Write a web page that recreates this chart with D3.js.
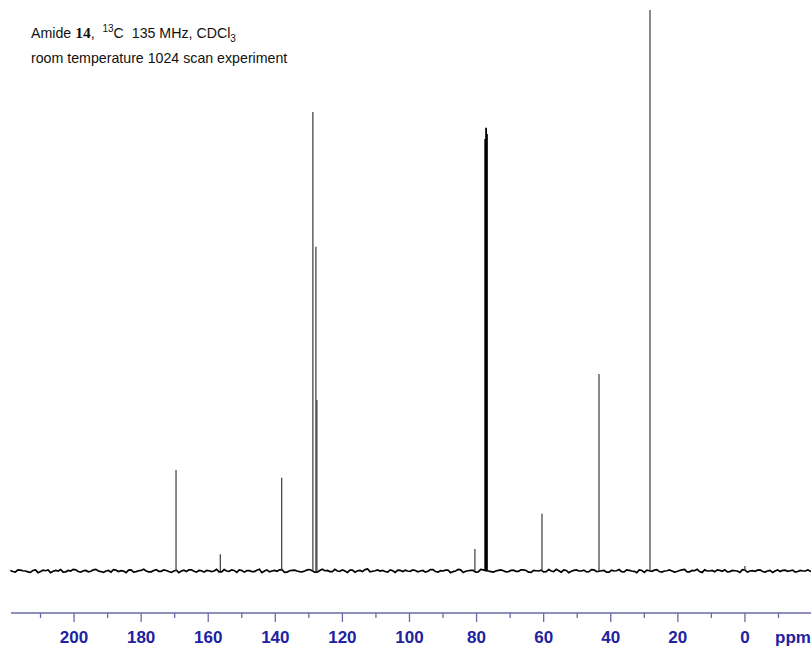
<!DOCTYPE html>
<html>
<head>
<meta charset="utf-8">
<script src="https://cdn.jsdelivr.net/npm/d3@7/dist/d3.min.js"></script>
<style>
  html, body { margin: 0; padding: 0; background: #fff; }
  svg { display: block; }
  text { white-space: pre; }
</style>
</head>
<body>
<svg id="chart" width="811" height="648"></svg>
<script>
// ---- data ----
const peakPpm    = [169.6, 156.4, 138.1, 128.8, 127.9, 127.6, 80.5, 77.42, 77.16, 76.91, 60.5, 43.5, 28.3, 0.0];
const peakHeight = [18.0,   3.0,  16.6,  81.8,  57.8,  30.5,  3.9,  77.0,  79.0,  77.9, 10.2, 35.1, 100.0, 0.9];
const tripletPpm = [77.42, 77.16, 76.91];

const tickValues = [210, 200, 190, 180, 170, 160, 150, 140, 130, 120, 110, 100, 90, 80, 70, 60, 50, 40, 30, 20, 10, 0, -10];
const tickLabels = ["200", "180", "160", "140", "120", "100", "80", "60", "40", "20", "0"];

const titleLine1 = ["Amide ", "14", ",  ", "13", "C  135 MHz, CDCl", "3"];
const titleLine2 = "room temperature 1024 scan experiment";
const unitLabel = "ppm";

// baseline noise, estimated; one value per 1.5 ppm from 219 ppm downwards,
// and a second set at the half-steps in between
const baseStartPpm = 219;
const baseStepPpm = 1.5;
const baselineNoise = [
  0.1,-0.2,0.15,0.0,-0.25,0.2,-0.1,0.05,-0.3,0.1,0.25,-0.15,0.0,0.2,-0.2,0.1,-0.05,0.3,-0.1,0.0,
  -0.2,0.15,0.05,-0.3,0.2,-0.1,0.1,0.0,-0.15,0.25,-0.05,0.1,-0.25,0.15,0.0,-0.1,0.2,-0.2,0.05,0.1,
  -0.1,0.3,-0.15,0.0,0.2,-0.25,0.1,0.05,-0.1,0.15,-0.3,0.2,0.0,-0.05,0.25,-0.2,0.1,0.0,-0.15,0.2,
  0.05,-0.2,0.3,0.1,-0.1,0.0,0.2,-0.25,0.15,0.05,-0.1,0.35,-0.05,0.2,0.1,-0.2,0.05,0.15,-0.1,0.0,
  0.2,-0.15,0.1,-0.05,0.25,-0.2,0.0,0.15,-0.1,0.3,-0.25,0.05,0.1,-0.15,0.2,0.0,-0.2,0.1,0.05,-0.1,
  0.15,-0.05,0.2,-0.2,0.1,0.0,-0.15,0.25,-0.1,0.05,0.2,-0.3,0.1,0.0,0.15,-0.1,0.2,-0.05,0.1,-0.2,
  0.0,0.25,-0.15,0.1,-0.05,0.2,-0.25,0.05,0.15,-0.1,0.0,0.2,-0.2,0.1,0.3,-0.15,0.05,-0.1,0.2,0.0,
  -0.15,0.1,0.2,-0.1,0.05,-0.25,0.15,0.0,-0.05,0.2,-0.2,0.1,0.0,-0.1,0.15,0.05,-0.2,0.1,0.0,-0.05
];
const baselineNoiseMid = [
  -0.1,0.2,0.05,-0.15,0.1,-0.3,0.15,0.2,-0.05,0.0,-0.2,0.1,0.3,-0.1,0.05,-0.15,0.2,0.0,-0.25,0.1,
  0.25,-0.1,0.0,0.15,-0.2,0.05,0.3,-0.15,0.1,-0.05,0.2,-0.1,0.0,-0.3,0.15,0.2,-0.05,0.1,-0.2,0.05,
  0.0,-0.15,0.25,-0.05,0.1,0.2,-0.2,0.05,-0.1,0.3,0.0,-0.15,0.1,0.2,-0.25,0.05,0.15,-0.1,0.0,0.25,
  -0.2,0.1,0.05,-0.1,0.3,-0.05,0.0,0.15,-0.2,0.1,0.25,-0.15,0.05,0.0,-0.1,0.2,-0.25,0.1,0.15,-0.05,
  0.1,0.0,-0.2,0.25,-0.1,0.05,0.15,-0.3,0.0,0.2,-0.05,0.1,-0.2,0.3,0.05,-0.1,0.0,0.2,-0.15,0.1,
  -0.05,0.2,0.1,-0.25,0.05,0.15,-0.1,0.0,0.3,-0.2,0.1,-0.05,0.2,0.0,-0.15,0.25,-0.1,0.05,-0.2,0.15,
  0.05,-0.1,0.2,0.0,-0.3,0.1,0.15,-0.05,0.25,-0.2,0.05,0.0,-0.1,0.2,-0.15,0.1,0.3,-0.25,0.0,0.1,
  0.2,-0.05,-0.15,0.1,0.0,0.25,-0.2,0.05,0.15,-0.1,0.0,-0.25,0.2,0.1,-0.05,0.15,-0.1,0.0,0.2,-0.15
];

// ---- drawing ----
const svg = d3.select("#chart");
const W = 811, H = 648;

const x = d3.scaleLinear().domain([218.8, -19.7]).range([11, 811]);
const y = d3.scaleLinear().domain([0, 100]).range([571, 10]);

// baseline
const basePts = [];
baselineNoise.forEach((v, i) => {
  basePts.push([baseStartPpm - i * baseStepPpm, v]);
  basePts.push([baseStartPpm - (i + 0.5) * baseStepPpm, baselineNoiseMid[i]]);
});
svg.append("path")
  .datum(basePts)
  .attr("fill", "none")
  .attr("stroke", "#000")
  .attr("stroke-width", 1.7)
  .attr("stroke-linejoin", "miter")
  .attr("d", d3.line().x(d => x(d[0])).y(d => y(d[1])));

// peaks
const peaks = peakPpm.map((p, i) => ({ ppm: p, h: peakHeight[i] }));
svg.append("g").selectAll("line")
  .data(peaks)
  .join("line")
  .attr("x1", d => x(d.ppm))
  .attr("x2", d => x(d.ppm))
  .attr("y1", y(0))
  .attr("y2", d => y(d.h))
  .attr("stroke", d => tripletPpm.includes(d.ppm) ? "#000" : "#3a3a3a")
  .attr("stroke-width", d => tripletPpm.includes(d.ppm) ? 1.8 : 1.2);

// axis
const axisY = 613;
const axisColor = "#6a6aa8";
const axisG = svg.append("g").attr("transform", `translate(0,${axisY})`);
axisG.append("line")
  .attr("x1", 11).attr("x2", W)
  .attr("y1", 0).attr("y2", 0)
  .attr("stroke", axisColor).attr("stroke-width", 1.6);

axisG.selectAll("line.tick")
  .data(tickValues)
  .join("line")
  .attr("class", "tick")
  .attr("x1", d => x(d)).attr("x2", d => x(d))
  .attr("y1", 0)
  .attr("y2", d => (d % 20 === 0 ? 9 : 5))
  .attr("stroke", axisColor).attr("stroke-width", 1.3);

axisG.selectAll("text.lbl")
  .data(tickLabels)
  .join("text")
  .attr("class", "lbl")
  .attr("x", d => x(+d))
  .attr("y", 30)
  .attr("text-anchor", "middle")
  .attr("font-family", "'Liberation Sans', Arial, sans-serif")
  .attr("font-weight", "bold")
  .attr("font-size", 17)
  .attr("fill", "#2222a0")
  .text(d => d);

axisG.append("text")
  .attr("x", 775)
  .attr("y", 30)
  .attr("font-family", "'Liberation Sans', Arial, sans-serif")
  .attr("font-weight", "bold")
  .attr("font-size", 17)
  .attr("fill", "#2222a0")
  .text(unitLabel);

// title
const t1 = svg.append("text")
  .attr("x", 31).attr("y", 38)
  .attr("font-family", "'Liberation Sans', Arial, sans-serif")
  .attr("font-size", 14.2)
  .attr("fill", "#111");
t1.append("tspan").text(titleLine1[0]);
t1.append("tspan").attr("font-family", "'Liberation Serif', 'Times New Roman', serif")
  .attr("font-weight", "bold").attr("font-size", 15.5).text(titleLine1[1]);
t1.append("tspan").text(titleLine1[2]);
t1.append("tspan").attr("font-size", 10).attr("dy", -6).text(titleLine1[3]);
t1.append("tspan").attr("dy", 6).text(titleLine1[4]);
t1.append("tspan").attr("font-size", 10).attr("dy", 4).text(titleLine1[5]);

svg.append("text")
  .attr("x", 31).attr("y", 63)
  .attr("font-family", "'Liberation Sans', Arial, sans-serif")
  .attr("font-size", 14.2)
  .attr("fill", "#111")
  .text(titleLine2);
</script>
</body>
</html>
